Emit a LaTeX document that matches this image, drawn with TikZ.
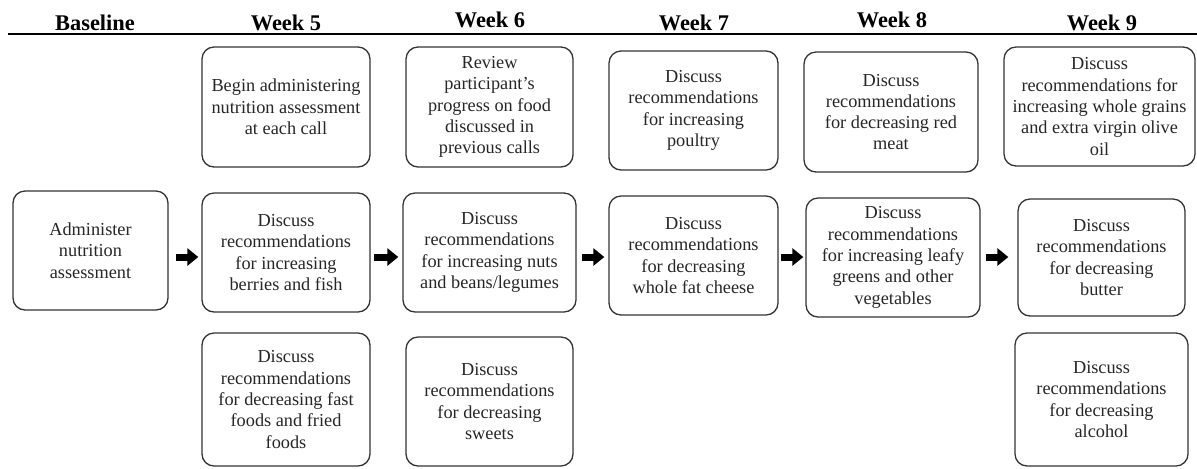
\documentclass[tikz,border=0pt]{standalone}
\usepackage{fontspec}
\setmainfont{Liberation Serif}
\usetikzlibrary{arrows.meta,calc}
\begin{document}
\begin{tikzpicture}[x=0.5pt,y=-0.5pt,
  box/.style={draw=black!80, line width=0.65pt, rounded corners=6pt, align=center,
    font=\fontsize{9.15}{10.65}\selectfont, text=black!85, inner sep=0pt},
  hdr/.style={font=\fontsize{11.2}{13}\selectfont\bfseries, anchor=base, inner sep=0pt},
  blockarrow/.style={line width=3.5pt, -{Triangle[length=5.5pt,width=8.5pt]}}]
\useasboundingbox (0,0) rectangle (1197,468);

% headers
\node[hdr] (hB) at (95,30.7) {Baseline};
\node[hdr] (h5) at (286,30.7) {Week 5};
\node[hdr] (h6) at (490,27.3) {Week 6};
\node[hdr] (h7) at (694,30.7) {Week 7};
\node[hdr] (h8) at (892,27.3) {Week 8};
\node[hdr] (h9) at (1102,30.7) {Week 9};
\coordinate (rl) at (8,34.3);
\coordinate (rr) at (1197,34.3);
\draw[line width=1pt] (rl) -- (rr);

% boxes
\node[box, minimum width=77.5pt, minimum height=59.5pt] (base) at (90.5,250.5)
  {Administer\\nutrition\\assessment};

\node[box, minimum width=84pt, minimum height=60pt] (w5t) at (286,107)
  {Begin administering\\nutrition assessment\\at each call};
\node[box, minimum width=84pt, minimum height=59.5pt] (w5m) at (286,252.5)
  {Discuss\\recommendations\\for increasing\\berries and fish};
\node[box, minimum width=84pt, minimum height=66.5pt] (w5b) at (286,399.5)
  {Discuss\\recommendations\\for decreasing fast\\foods and fried\\foods};

\node[box, minimum width=83.5pt, minimum height=60pt] (w6t) at (489.5,107)
  {Review\\participant’s\\progress on food\\discussed in\\previous calls};
\node[box, minimum width=86.5pt, minimum height=59.5pt] (w6m) at (489.5,252.5)
  {Discuss\\recommendations\\for increasing nuts\\and beans/legumes};
\node[box, minimum width=83.5pt, minimum height=64.5pt] (w6b) at (489.5,401.5)
  {Discuss\\recommendations\\for decreasing\\sweets};

\node[box, minimum width=84.5pt, minimum height=59.5pt] (w7t) at (693.5,110.5)
  {Discuss\\recommendations\\for increasing\\poultry};
\node[box, minimum width=84.5pt, minimum height=59.5pt] (w7m) at (693.5,255.5)
  {Discuss\\recommendations\\for decreasing\\whole fat cheese};

\node[box, minimum width=87pt, minimum height=60pt] (w8t) at (891,112)
  {Discuss\\recommendations\\for decreasing red\\meat};
\node[box, minimum width=87pt, minimum height=59.5pt] (w8m) at (893,257.5)
  {Discuss\\recommendations\\for increasing leafy\\greens and other\\vegetables};

\node[box, minimum width=95.5pt, minimum height=59.5pt] (w9t) at (1099.5,106.5)
  {Discuss\\recommendations for\\increasing whole grains\\and extra virgin olive\\oil};
\node[box, minimum width=83.5pt, minimum height=58.5pt] (w9m) at (1101.5,257.5)
  {Discuss\\recommendations\\for decreasing\\butter};
\node[box, minimum width=86.5pt, minimum height=66.5pt] (w9b) at (1101.5,399.5)
  {Discuss\\recommendations\\for decreasing\\alcohol};

% arrows
\coordinate (ay) at (0,257);
\draw[blockarrow] ($(base.east|-ay)+(7,0)$) -- ($(w5m.west|-ay)+(-3,0)$);
\draw[blockarrow] ($(w5m.east|-ay)+(3,0)$) -- ($(w6m.west|-ay)+(-4,0)$);
\draw[blockarrow] ($(w6m.east|-ay)+(5,0)$) -- ($(w7m.west|-ay)+(-4,0)$);
\draw[blockarrow] ($(w7m.east|-ay)+(2,0)$) -- ($(w8m.west|-ay)+(-2,0)$);
\draw[blockarrow] ($(w8m.east|-ay)+(5,0)$) -- ($(w9m.west|-ay)+(-9,0)$);
\end{tikzpicture}
\end{document}
